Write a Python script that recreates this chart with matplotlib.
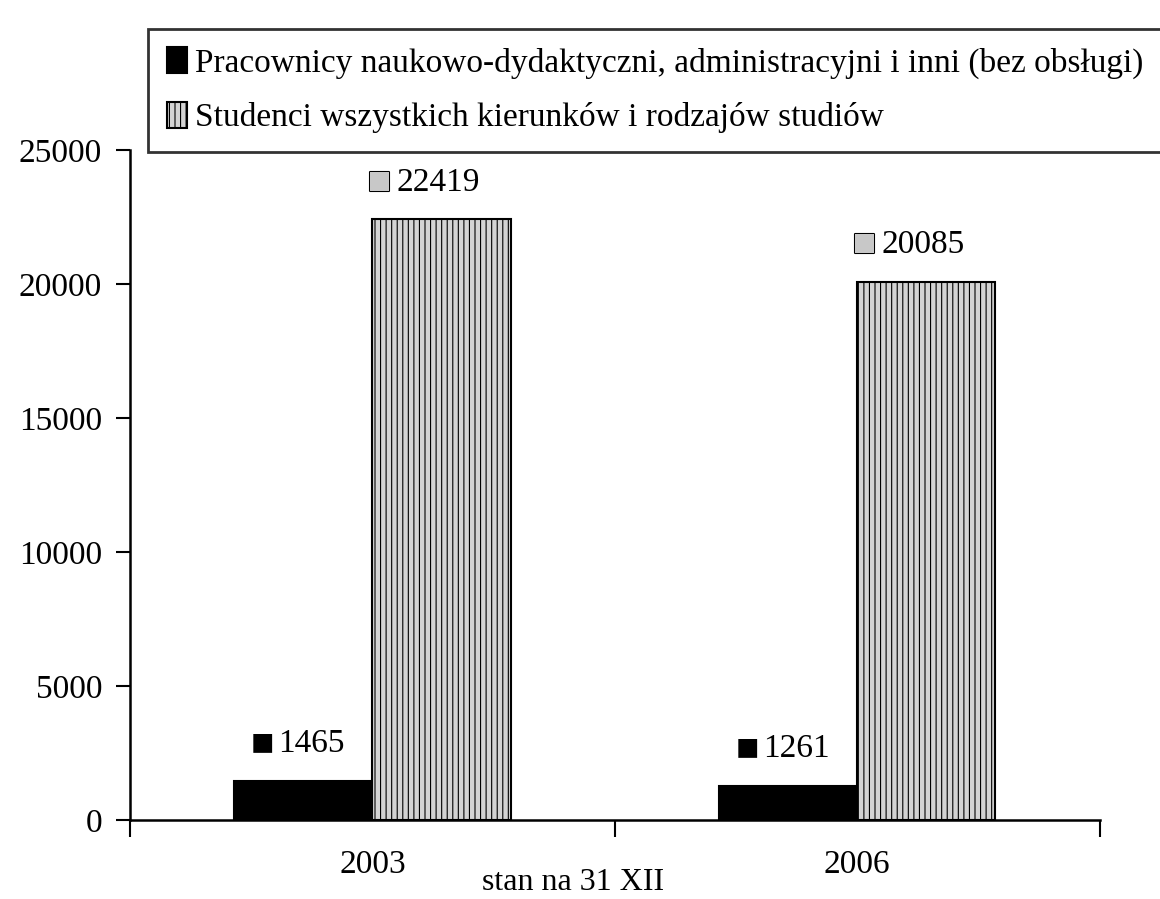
import matplotlib.pyplot as plt
import matplotlib.patheffects as pe
import numpy as np

# data
years = ["2003", "2006"]
staff = [1465, 1261]
students = [22419, 20085]
staff_label = "Pracownicy naukowo-dydaktyczni, administracyjni i inni (bez obsługi)"
students_label = "Studenci wszystkich kierunków i rodzajów studiów"

plt.rcParams['font.family'] = ['Liberation Serif', 'DejaVu Sans']
plt.rcParams['hatch.color'] = '#9a9a9a'
plt.rcParams['hatch.linewidth'] = 0.8

fig = plt.figure(figsize=(11.6, 8.99), dpi=100)
ax = fig.add_axes([0.112, 0.088, 0.836, 0.745])

x = np.arange(len(years)) + 0.5
w = 0.285

b1 = ax.bar(x - w / 2, staff, w, color='black', edgecolor='black',
            linewidth=1.5, label=staff_label)
b2 = ax.bar(x + w / 2, students, w, color='#d4d4d4', edgecolor='black',
            linewidth=1.5, hatch='|||', label=students_label)

# value labels with small square keys
for xi, v in zip(x - w / 2, staff):
    ax.annotate("■", (xi, v), xytext=(-41, 36), textcoords='offset pixels',
                ha='center', va='center', fontsize=28, color='black')
    ax.annotate(str(v), (xi, v), xytext=(-25, 37), textcoords='offset pixels',
                ha='left', va='center', fontsize=24)
for xi, v in zip(x + w / 2, students):
    ax.annotate("■", (xi, v), xytext=(-62, 36), textcoords='offset pixels',
                ha='center', va='center', fontsize=28, color='#c8c8c8',
                path_effects=[pe.withStroke(linewidth=1.5, foreground='black')])
    ax.annotate(str(v), (xi, v), xytext=(-45, 37), textcoords='offset pixels',
                ha='left', va='center', fontsize=24)

ax.set_xlim(0, 2)
ax.set_ylim(0, 25000)
ax.set_yticks(np.arange(0, 25001, 5000))
ax.set_xticks([0, 1, 2])
ax.set_xticklabels([])
ax.set_xticks(x, minor=True)
ax.set_xticklabels(years, minor=True)
ax.tick_params(axis='x', which='minor', length=0, pad=21, labelsize=24)
ax.tick_params(axis='x', which='major', direction='out', length=12, width=1.5)
ax.tick_params(axis='y', direction='out', length=10, width=1.5, labelsize=24, pad=10)

for s in ['top', 'right']:
    ax.spines[s].set_visible(False)
for s in ['left', 'bottom']:
    ax.spines[s].set_linewidth(1.8)

fig.text(0.494, 0.018, "stan na 31 XII", ha='center', va='center', fontsize=23)

leg = fig.legend(handles=[b1, b2], loc='upper left', bbox_to_anchor=(0.128, 0.968),
                 fontsize=24, frameon=True, fancybox=False, borderpad=0.55,
                 handlelength=0.6, handleheight=0.8, handletextpad=0.25,
                 labelspacing=0.7, borderaxespad=0)
leg.get_frame().set_edgecolor('black')
leg.get_frame().set_linewidth(2)

fig.savefig("out.png", dpi=100)
